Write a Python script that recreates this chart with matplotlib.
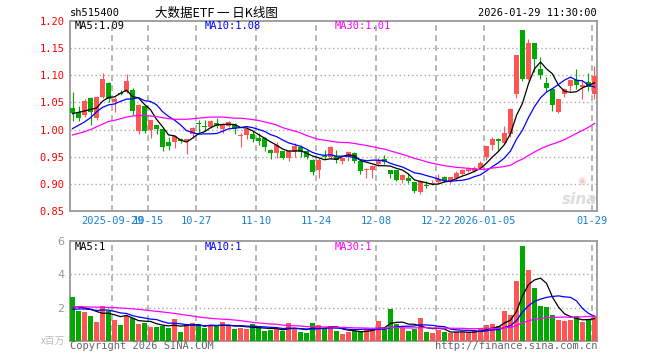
import numpy as np
import pandas as pd
import matplotlib
matplotlib.use('Agg')
from matplotlib import pyplot as plt

# ---- daily candles, 2025-09-18 .. 2026-01-29 (88 trading days) ----
opens = [1.039, 1.033, 1.026, 1.059, 1.022, 1.060, 1.085, 1.051, 1.068, 1.070,
         1.073, 0.998, 1.043, 1.000, 1.008, 1.001, 0.977, 0.977, 0.983, 0.977,
         0.992, 1.013, 1.007, 1.004, 1.013, 1.001, 1.006, 1.011, 0.989, 0.990,
         0.992, 0.985, 0.985, 0.963, 0.956, 0.960, 0.947, 0.958, 0.968, 0.960,
         0.944, 0.926, 0.952, 0.950, 0.951, 0.942, 0.951, 0.957, 0.942, 0.926,
         0.925, 0.936, 0.945, 0.925, 0.925, 0.908, 0.910, 0.903, 0.885, 0.898,
         0.899, 0.904, 0.912, 0.905, 0.910, 0.919, 0.923, 0.924, 0.930, 0.950,
         0.971, 0.982, 0.976, 0.991, 1.066, 1.183, 1.093, 1.160, 1.112, 1.086,
         1.075, 1.032, 1.065, 1.081, 1.091, 1.079, 1.088, 1.066]
closes = [1.031, 1.022, 1.052, 1.033, 1.060, 1.094, 1.057, 1.057, 1.066, 1.089,
          1.035, 1.045, 0.997, 1.017, 1.001, 0.967, 0.969, 0.988, 0.979, 0.982,
          1.003, 1.011, 1.005, 1.016, 1.007, 1.008, 1.014, 1.001, 0.990, 1.001,
          0.983, 0.979, 0.968, 0.956, 0.971, 0.947, 0.960, 0.969, 0.958, 0.949,
          0.921, 0.944, 0.950, 0.967, 0.944, 0.948, 0.958, 0.942, 0.923, 0.928,
          0.933, 0.942, 0.941, 0.919, 0.908, 0.917, 0.905, 0.887, 0.905, 0.896,
          0.902, 0.909, 0.906, 0.912, 0.920, 0.925, 0.928, 0.930, 0.939, 0.969,
          0.982, 0.979, 0.994, 1.038, 1.138, 1.093, 1.160, 1.130, 1.101, 1.076,
          1.046, 1.056, 1.074, 1.091, 1.082, 1.082, 1.078, 1.098]
highs = [1.069, 1.043, 1.057, 1.060, 1.062, 1.105, 1.088, 1.060, 1.072, 1.102,
         1.077, 1.047, 1.045, 1.018, 1.009, 1.002, 0.986, 0.990, 0.985, 0.983,
         1.004, 1.017, 1.018, 1.017, 1.021, 1.013, 1.015, 1.012, 0.994, 1.006,
         0.997, 0.994, 0.986, 0.964, 0.977, 0.961, 0.963, 0.975, 0.971, 0.963,
         0.945, 0.948, 0.963, 0.969, 0.963, 0.949, 0.961, 0.958, 0.943, 0.929,
         0.934, 0.948, 0.954, 0.926, 0.926, 0.918, 0.920, 0.904, 0.907, 0.905,
         0.907, 0.918, 0.914, 0.913, 0.923, 0.927, 0.931, 0.933, 0.942, 0.970,
         0.987, 0.984, 1.007, 1.039, 1.138, 1.183, 1.166, 1.160, 1.134, 1.096,
         1.076, 1.057, 1.077, 1.093, 1.112, 1.091, 1.104, 1.117]
lows = [1.015, 1.015, 1.023, 1.008, 1.018, 1.059, 1.051, 1.032, 1.063, 1.068,
        1.027, 0.992, 0.993, 0.985, 0.992, 0.961, 0.962, 0.966, 0.976, 0.955,
        0.985, 0.996, 0.997, 1.003, 1.003, 0.994, 1.005, 0.991, 0.968, 0.982,
        0.978, 0.972, 0.960, 0.945, 0.948, 0.945, 0.942, 0.950, 0.950, 0.945,
        0.916, 0.911, 0.945, 0.945, 0.939, 0.936, 0.942, 0.938, 0.919, 0.911,
        0.911, 0.933, 0.936, 0.911, 0.905, 0.902, 0.901, 0.884, 0.881, 0.893,
        0.898, 0.901, 0.903, 0.902, 0.908, 0.917, 0.921, 0.922, 0.927, 0.944,
        0.962, 0.960, 0.974, 0.987, 1.058, 1.089, 1.091, 1.106, 1.094, 1.070,
        1.034, 1.030, 1.060, 1.071, 1.075, 1.056, 1.071, 1.056]
# volume, millions of shares
volumes = [2.66, 1.80, 1.72, 1.52, 1.16, 2.12, 1.80, 1.26, 0.96, 1.52,
           1.36, 1.02, 1.10, 0.86, 0.86, 0.92, 0.80, 1.32, 0.56, 1.02,
           1.08, 0.96, 0.80, 0.90, 0.90, 1.16, 0.90, 0.72, 0.78, 0.72,
           1.02, 0.76, 0.60, 0.66, 0.72, 0.62, 1.08, 0.72, 0.52, 0.48,
           1.08, 0.96, 0.74, 0.92, 0.60, 0.42, 0.56, 0.60, 0.60, 0.70,
           0.70, 1.20, 0.76, 1.92, 1.02, 0.76, 0.60, 0.72, 1.38, 0.54,
           0.48, 0.66, 0.54, 0.48, 0.52, 0.56, 0.52, 0.60, 0.76, 0.96,
           1.02, 0.90, 1.80, 1.56, 3.60, 5.70, 4.26, 3.20, 2.10, 2.04,
           1.56, 1.26, 1.20, 1.26, 1.50, 1.14, 1.32, 1.50]

# closes / volumes of the 9 days before the window (feed MA5 / MA10)
prior_closes = [0.962, 0.990, 0.955, 0.952, 1.012, 1.010, 1.040, 1.018, 1.048]
prior_volumes = [1.6, 1.7, 1.8, 1.8, 1.8, 1.9, 2.0, 1.9, 1.84]
# MA30 over the first 29 days of the window
ma30_head = [0.990, 0.993, 0.996, 1.000, 1.005, 1.010, 1.015, 1.017, 1.020, 1.023,
             1.025, 1.026, 1.026, 1.025, 1.024, 1.022, 1.020, 1.019, 1.019, 1.019,
             1.020, 1.021, 1.022, 1.023, 1.023, 1.023, 1.022, 1.021, 1.021]
vol_ma30_head = [2.08, 2.06, 2.05, 2.04, 2.03, 2.02, 2.01, 2.00, 1.98, 1.96,
                 1.93, 1.90, 1.86, 1.82, 1.78, 1.74, 1.70, 1.65, 1.60, 1.55,
                 1.50, 1.44, 1.40, 1.36, 1.33, 1.31, 1.29, 1.26, 1.22]

tick_idx = [7, 13, 21, 31, 41, 51, 61, 69, 87]
tick_labels = ['2025-09-29', '10-15', '10-27', '11-10', '11-24', '12-08',
               '12-22', '2026-01-05', '01-29']

RED = '#ff5555'
GREEN = '#00a800'
GRID = '#aaaaaa'
MONO = 'DejaVu Sans Mono'
CJK = ['Noto Sans CJK SC', 'DejaVu Sans']

n = len(closes)
x = np.arange(n)

# moving averages
c_all = pd.Series(prior_closes + closes)
v_all = pd.Series(prior_volumes + volumes)
k = len(prior_closes)
ma5 = c_all.rolling(5).mean().values[k:]
ma10 = c_all.rolling(10).mean().values[k:]
ma30 = pd.Series(closes).rolling(30).mean().values
ma30[:29] = ma30_head
vma5 = v_all.rolling(5).mean().values[k:]
vma10 = v_all.rolling(10).mean().values[k:]
vma30 = pd.Series(volumes).rolling(30).mean().values
vma30[:29] = vol_ma30_head

W, H = 660, 360
fig = plt.figure(figsize=(W / 100, H / 100), dpi=100)
fig.patch.set_facecolor('white')


def px_axes(x0, y0, x1, y1):
    return fig.add_axes([x0 / W, 1 - y1 / H, (x1 - x0) / W, (y1 - y0) / H])


def ftext(px, py, s, **kw):
    fig.text(px / W, 1 - py / H, s, **kw)


ax = px_axes(70, 21, 597, 211)
axv = px_axes(70, 241, 597, 341)

up = np.array(closes) >= np.array(opens)
cols = [RED if u else GREEN for u in up]

# candles
for i in range(n):
    ax.vlines(x[i], lows[i], highs[i], color=cols[i], lw=0.8, zorder=3)
    lo = min(opens[i], closes[i])
    h = max(abs(closes[i] - opens[i]), 0.0018)
    ax.bar(x[i], h, bottom=lo, width=0.83, color=cols[i], lw=0, zorder=4)

ax.plot(x, ma5, color='black', lw=0.9, zorder=5)
ax.plot(x, ma10, color='#0000ff', lw=0.9, zorder=5)
ax.plot(x, ma30, color='#ff00ff', lw=0.9, zorder=5)

# volume
axv.bar(x, volumes, width=0.83, color=cols, lw=0, zorder=3)
axv.plot(x, vma5, color='black', lw=0.9, zorder=5)
axv.plot(x, vma10, color='#0000ff', lw=0.9, zorder=5)
axv.plot(x, vma30, color='#ff00ff', lw=0.9, zorder=5)

for a in (ax, axv):
    a.set_xlim(-0.417, n - 1 + 0.417)
    for t in tick_idx:
        a.axvline(t - 0.38, color=GRID, lw=1.2, dashes=(3.5, 2.5), zorder=1)
    for s in a.spines.values():
        s.set_color('#999999')
        s.set_linewidth(1.3)
    a.tick_params(length=0)
    a.set_xticks([])

ax.set_ylim(0.85, 1.20)
yt = [0.85, 0.90, 0.95, 1.00, 1.05, 1.10, 1.15, 1.20]
ax.set_yticks(yt)
ax.set_yticklabels(['%.2f' % v for v in yt], color='#ff0000',
                   fontsize=7.5, family=MONO)
ax.tick_params(axis='y', pad=4)
for v in yt[1:-1]:
    ax.axhline(v, color=GRID, lw=1, dashes=(1, 2), zorder=1)

axv.set_ylim(0, 6)
axv.set_yticks([2, 4, 6])
axv.set_yticklabels(['2', '4', '6'], color='#999999', fontsize=8)
axv.tick_params(axis='y', pad=4)
for v in (2, 4):
    axv.axhline(v, color=GRID, lw=1, dashes=(1, 2), zorder=1)

# date labels under price panel (first two overlap, as on the original)
for t, lab in zip(tick_idx, tick_labels):
    xp = 72.5 + 6 * t - 2.3
    ftext(xp, 221, lab, ha='center', va='center', color='#1a80d0',
          fontsize=7.5, family=MONO)

# header
ftext(70, 13, 'sh515400', ha='left', va='center', fontsize=7.5, family=MONO)
ftext(216, 13, '大数据ETF 一 日K线图', ha='center', va='center',
      fontsize=9, family=CJK)
ftext(597, 13, '2026-01-29 11:30:00', ha='right', va='center',
      fontsize=7.5, family=MONO)

ftext(75, 26, 'MA5:%.2f' % ma5[-1], ha='left', va='center', fontsize=7.5,
      family=MONO, color='black')
ftext(205, 26, 'MA10:%.2f' % ma10[-1], ha='left', va='center', fontsize=7.5,
      family=MONO, color='#0000ff')
ftext(335, 26, 'MA30:%.2f' % ma30[-1], ha='left', va='center', fontsize=7.5,
      family=MONO, color='#ff00ff')

ftext(75, 247, 'MA5:%.0f' % vma5[-1], ha='left', va='center', fontsize=7.5,
      family=MONO, color='black')
ftext(205, 247, 'MA10:%.0f' % vma10[-1], ha='left', va='center', fontsize=7.5,
      family=MONO, color='#0000ff')
ftext(335, 247, 'MA30:%.0f' % vma30[-1], ha='left', va='center', fontsize=7.5,
      family=MONO, color='#ff00ff')

ftext(65, 341, 'x百万', ha='right', va='center', fontsize=7, family=CJK,
      color='#bbbbbb')
ftext(70, 346, 'Copyright 2026 SINA.COM', ha='left', va='center',
      fontsize=7.5, family=MONO, color='#666666')
ftext(597, 346, 'http://finance.sina.com.cn', ha='right', va='center',
      fontsize=7.5, family=MONO, color='#666666')

# faint sina watermark
ftext(580, 199, 'sina', ha='center', va='center', fontsize=11,
      style='italic', weight='bold', color='#dcdcdc')
ftext(582, 181, '◉', ha='center', va='center', fontsize=7, color='#f2cccc')

fig.savefig('out.png', dpi=100, facecolor='white')
